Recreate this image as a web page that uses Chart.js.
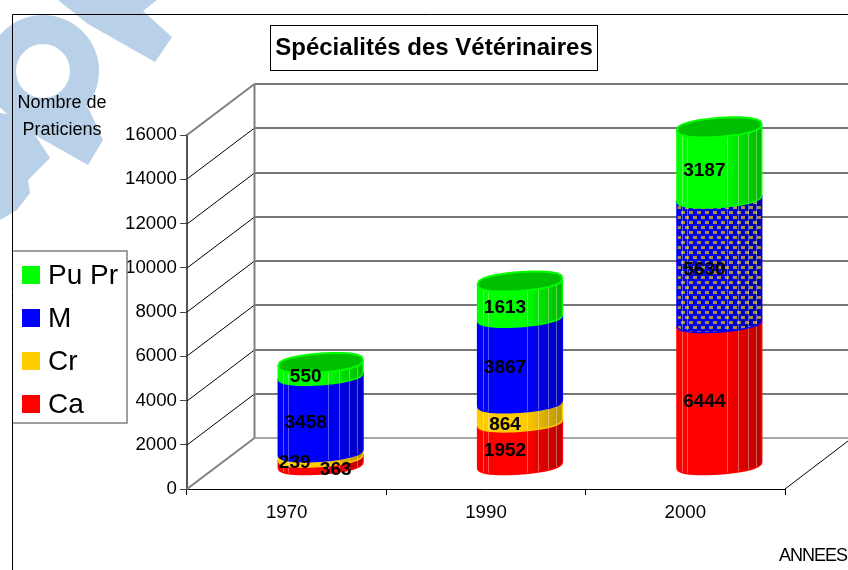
<!DOCTYPE html>
<html>
<head>
<meta charset="utf-8">
<title>Spécialités des Vétérinaires</title>
<style>
  html, body { margin: 0; padding: 0; background: #fff; overflow: hidden; }
  canvas { display: block; }
</style>
<script src="https://cdn.jsdelivr.net/npm/chart.js@4/dist/chart.umd.min.js"></script>
</head>
<body>
<canvas id="chartCanvas" width="848" height="570"></canvas>
<script>
// Chart data
const annees = ['1970', '1990', '2000'];
const ca = [363, 1952, 6444];
const cr = [239, 864, 0];
const medecine = [3458, 3867, 5630];
const puPr = [550, 1613, 3187];
const yTicks = [0, 2000, 4000, 6000, 8000, 10000, 12000, 14000, 16000];

const FONT = '"Liberation Sans", Arial, sans-serif';

// 3D look: depth of the floor and how far the cylinders sit in it
const depthX = 67, depthY = 51;
const barShiftX = 34, barLiftY = 24;
const ellipseH = 9.5, ellipseTilt = 3;
const facetStops = [5, 10, 50, 61, 71, 79];

// labels that do not follow the usual offset, key is dataset:bar
const labelNudge = { '0:0': [49, 9], '1:0': [8, 8], '1:1': [19, 13], '2:2': [19, 10], '2:0': [19, 9] };

function shade(hex, f) {
  const n = parseInt(hex.slice(1), 16);
  const c = [n >> 16, (n >> 8) & 255, n & 255].map(v => Math.round(v * f));
  return `rgb(${c[0]},${c[1]},${c[2]})`;
}

function makeHatch(ctx) {
  const tile = document.createElement('canvas');
  tile.width = 8; tile.height = 10;
  const t = tile.getContext('2d');
  t.fillStyle = '#BFA055';
  t.fillRect(1, 1, 4, 3);
  t.fillRect(5, 6, 3, 3);
  t.fillRect(0, 6, 1, 3);
  return ctx.createPattern(tile, 'repeat');
}

// point on the tilted ring of a cylinder, t=0 right, t=PI/2 front
function ringPoint(cx, cy, rx, t) {
  const s = Math.sin(t);
  const squashed = Math.sign(s) * Math.pow(Math.abs(s), 0.75);
  return [cx + rx * Math.cos(t), cy + ellipseH * squashed - ellipseTilt * Math.cos(t)];
}

function traceArc(ctx, cx, cy, rx, from, to) {
  const steps = 24;
  for (let i = 0; i <= steps; i++) {
    const p = ringPoint(cx, cy, rx, from + (to - from) * i / steps);
    ctx.lineTo(p[0], p[1]);
  }
}

function drawSegment(ctx, bar, color, hatch) {
  const rx = bar.width / 2 - 0.5;
  const cx = bar.x + barShiftX;
  const top = bar.y - barLiftY, bottom = bar.base - barLiftY;

  ctx.beginPath();
  traceArc(ctx, cx, top, rx, Math.PI, 2 * Math.PI);
  traceArc(ctx, cx, bottom, rx, 0, Math.PI);
  ctx.closePath();

  const grad = ctx.createLinearGradient(cx - rx, 0, cx + rx, 0);
  grad.addColorStop(0, shade(color, 1));
  grad.addColorStop(0.55, shade(color, 1));
  grad.addColorStop(1, shade(color, 0.72));
  ctx.fillStyle = grad;
  ctx.fill();
  if (hatch) {
    ctx.fillStyle = hatch;
    ctx.fill();
    ctx.fillStyle = 'rgba(0,0,0,0.12)';
    ctx.fill();
  }

  // thin light lines where the facets meet
  ctx.strokeStyle = 'rgba(255,255,255,0.35)';
  ctx.lineWidth = 1;
  facetStops.forEach(stop => {
    const x = cx - rx + stop * bar.width / 86;
    const t = Math.acos((x - cx) / rx);
    const a = ringPoint(cx, top, rx, t), b = ringPoint(cx, bottom, rx, t);
    ctx.beginPath();
    ctx.moveTo(Math.round(x) + 0.5, a[1]);
    ctx.lineTo(Math.round(x) + 0.5, b[1]);
    ctx.stroke();
  });

  // bright rim along the sides and the lower edge
  ctx.strokeStyle = color;
  ctx.lineWidth = 1.5;
  ctx.beginPath();
  const start = ringPoint(cx, top, rx, 0);
  ctx.moveTo(start[0], start[1]);
  traceArc(ctx, cx, bottom, rx, 0, Math.PI);
  traceArc(ctx, cx, top, rx, Math.PI, Math.PI);
  ctx.stroke();
}

function drawCap(ctx, bar, color) {
  const rx = bar.width / 2 - 0.5;
  const cx = bar.x + barShiftX, cy = bar.y - barLiftY;
  ctx.beginPath();
  traceArc(ctx, cx, cy, rx, 0, 2 * Math.PI);
  ctx.closePath();
  ctx.fillStyle = shade(color, 0.75);
  ctx.fill();
  ctx.strokeStyle = color;
  ctx.lineWidth = 2;
  ctx.stroke();
}

function fillPoly(ctx, pts) {
  ctx.beginPath();
  pts.forEach((p, i) => i ? ctx.lineTo(p[0], p[1]) : ctx.moveTo(p[0], p[1]));
  ctx.closePath();
  ctx.fill();
}

const sceneryPlugin = {
  id: 'scenery',
  beforeDraw(chart) {
    const ctx = chart.ctx;
    ctx.save();
    ctx.fillStyle = '#fff';
    ctx.fillRect(0, 0, chart.width, chart.height);

    // pale watermark behind the chart
    ctx.fillStyle = '#B9D1E8';
    ctx.beginPath();
    ctx.arc(43, 71, 56, 0, Math.PI * 2);
    ctx.moveTo(70, 71);
    ctx.arc(43, 71, 27, 0, Math.PI * 2);
    ctx.fill('evenodd');
    fillPoly(ctx, [[0, 113], [35, 118], [88, 107], [103, 140], [88, 165], [35, 135], [50, 158], [28, 180], [30, 193], [17, 210], [0, 220]]);
    fillPoly(ctx, [[58, 0], [157, 0], [143, 11], [172, 37], [155, 62], [88, 24]]);

    // outer frame, runs off the right and bottom
    ctx.strokeStyle = '#000';
    ctx.lineWidth = 1;
    ctx.beginPath();
    ctx.moveTo(12.5, 570);
    ctx.lineTo(12.5, 14.5);
    ctx.lineTo(848, 14.5);
    ctx.stroke();
    ctx.restore();
  },
  beforeDatasetsDraw(chart) {
    const ctx = chart.ctx;
    const yScale = chart.scales.y;
    const area = chart.chartArea;
    const backX = Math.round(area.left) + depthX + 0.5;
    ctx.save();

    // back wall and side wall grid, drawn from the y scale
    yTicks.forEach(v => {
      const y = Math.round(yScale.getPixelForValue(v));
      const edge = v === 0 || v === 16000;
      ctx.strokeStyle = edge ? '#808080' : '#000';
      ctx.lineWidth = edge ? 2 : 1;
      ctx.beginPath();
      ctx.moveTo(area.left, y);
      ctx.lineTo(backX, y - depthY);
      ctx.stroke();
      ctx.strokeStyle = v === 0 ? '#A8A8A8' : '#777';
      ctx.lineWidth = 2;
      ctx.beginPath();
      ctx.moveTo(backX, y - depthY);
      ctx.lineTo(chart.width, y - depthY);
      ctx.stroke();
    });
    const wallTop = Math.round(yScale.getPixelForValue(16000)) - depthY;
    const wallBottom = Math.round(yScale.getPixelForValue(0)) - depthY;
    ctx.strokeStyle = '#808080';
    ctx.lineWidth = 2;
    ctx.beginPath();
    ctx.moveTo(backX, wallTop);
    ctx.lineTo(backX, wallBottom);
    ctx.stroke();

    // right edge of the floor
    ctx.strokeStyle = '#000';
    ctx.lineWidth = 1;
    ctx.beginPath();
    ctx.moveTo(area.right, yScale.getPixelForValue(0));
    ctx.lineTo(area.right + depthX, yScale.getPixelForValue(0) - depthY);
    ctx.stroke();

    // cylinders, bottom segment first so each one hangs over the one below
    const hatch = makeHatch(ctx);
    annees.forEach((year, idx) => {
      let topBar = null, topColor = null;
      chart.data.datasets.forEach((ds, d) => {
        if (!ds.data[idx]) return;
        const bar = chart.getDatasetMeta(d).data[idx];
        drawSegment(ctx, bar, ds.backgroundColor, ds.hatched === idx ? hatch : null);
        topBar = bar; topColor = ds.backgroundColor;
      });
      drawCap(ctx, topBar, topColor);
    });

    // value labels
    ctx.fillStyle = '#000';
    ctx.font = 'bold 19px ' + FONT;
    ctx.textAlign = 'center';
    ctx.textBaseline = 'middle';
    chart.data.datasets.forEach((ds, d) => {
      chart.getDatasetMeta(d).data.forEach((bar, i) => {
        if (!ds.data[i]) return;
        const nudge = labelNudge[d + ':' + i] || [19, 8];
        ctx.fillText(String(ds.data[i]), bar.x + nudge[0], (bar.y + bar.base) / 2 - barLiftY + nudge[1]);
      });
    });
    ctx.restore();
    return false;
  },
  afterDraw(chart) {
    const ctx = chart.ctx;
    ctx.save();

    // title box
    ctx.fillStyle = '#fff';
    ctx.fillRect(270.5, 25.5, 327, 45);
    ctx.strokeStyle = '#000';
    ctx.lineWidth = 1;
    ctx.strokeRect(270.5, 25.5, 327, 45);
    ctx.fillStyle = '#000';
    ctx.font = 'bold 24px ' + FONT;
    ctx.textAlign = 'center';
    ctx.textBaseline = 'middle';
    ctx.fillText('Spécialités des Vétérinaires', 434, 48);

    // axis captions
    ctx.font = '18px ' + FONT;
    ctx.fillText('Nombre de', 62, 103);
    ctx.fillText('Praticiens', 62, 130);
    ctx.textAlign = 'left';
    ctx.letterSpacing = '-1px';
    ctx.fillText('ANNEES', 779, 556);
    ctx.letterSpacing = '0px';

    // legend box, last dataset on top; its left side is the outer frame
    ctx.fillStyle = '#fff';
    ctx.fillRect(13, 251, 114, 172);
    ctx.strokeStyle = '#808080';
    ctx.lineWidth = 1.5;
    ctx.beginPath();
    ctx.moveTo(13, 251);
    ctx.lineTo(127, 251);
    ctx.lineTo(127, 423);
    ctx.lineTo(13, 423);
    ctx.stroke();
    ctx.font = '28px ' + FONT;
    ctx.textBaseline = 'middle';
    chart.data.datasets.slice().reverse().forEach((ds, i) => {
      const y = 275 + i * 43;
      ctx.fillStyle = ds.backgroundColor;
      ctx.fillRect(22, y - 9, 18, 18);
      ctx.fillStyle = '#000';
      ctx.fillText(ds.label, 48, y + 1);
    });
    ctx.restore();
  }
};

const chartInstance = new Chart(document.getElementById('chartCanvas').getContext('2d'), {
  type: 'bar',
  data: {
    labels: annees,
    datasets: [
      { label: 'Ca', data: ca, backgroundColor: '#FF0000' },
      { label: 'Cr', data: cr, backgroundColor: '#FFCC00' },
      { label: 'M', data: medecine, backgroundColor: '#0000FF', hatched: 2 },
      { label: 'Pu Pr', data: puPr, backgroundColor: '#00FF00' }
    ]
  },
  options: {
    responsive: false,
    animation: false,
    layout: { padding: { top: 135, right: 63, left: 0, bottom: 0 } },
    categoryPercentage: 0.43,
    barPercentage: 1,
    plugins: {
      legend: { display: false },
      title: { display: false },
      tooltip: { enabled: false }
    },
    scales: {
      x: {
        stacked: true,
        afterFit: s => { s.height = 81; },
        border: { color: '#000', width: 1 },
        grid: { offset: true, drawOnChartArea: false, tickLength: 6, tickColor: '#000' },
        ticks: { color: '#000', padding: 7, maxRotation: 0, font: { family: FONT, size: 18.7 } }
      },
      y: {
        stacked: true,
        min: 0,
        max: 16000,
        afterFit: s => { s.width = 187; },
        afterBuildTicks: s => { s.ticks = yTicks.map(v => ({ value: v })); },
        border: { color: '#555', width: 2 },
        grid: { drawOnChartArea: false, tickLength: 7, tickColor: '#444' },
        ticks: { color: '#000', padding: 3, font: { family: FONT, size: 18.7 }, callback: v => String(v) }
      }
    }
  },
  plugins: [sceneryPlugin]
});
</script>
</body>
</html>
